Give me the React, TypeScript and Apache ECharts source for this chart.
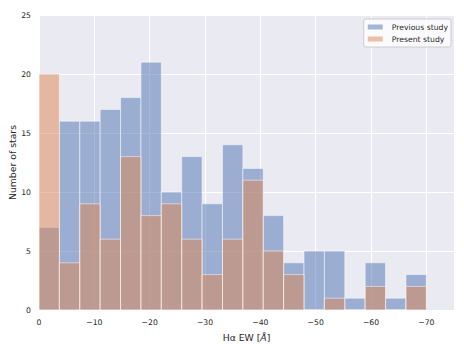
import React, { useEffect, useRef } from "react";
import * as echarts from "echarts";

// Histogram of H-alpha equivalent width (axis shows |EW|, labelled as negative EW)
const binCount = 19;
const binRange = 70; // bins span 0 .. -70 Å
const previousStudy = [7, 16, 16, 17, 18, 21, 10, 13, 9, 14, 12, 8, 4, 5, 5, 1, 4, 1, 3];
const presentStudy = [20, 4, 9, 6, 13, 8, 9, 6, 3, 6, 11, 5, 3, 0, 1, 0, 2, 0, 2];
const seriesNames = ["Previous study", "Present study"];
const yTicks = [0, 5, 10, 15, 20, 25];

const FONT = "DejaVu Sans";
const TEXT = "#262626";

function toItems(counts: number[]) {
  const w = binRange / binCount;
  return counts.map((c, i) => [i * w, (i + 1) * w, c]);
}

export default function App() {
  const ref = useRef<HTMLDivElement>(null);
  useEffect(() => {
    if (!ref.current) return;
    const chart = echarts.init(ref.current, undefined, { renderer: "svg" });
    const colors = ["rgba(76,114,176,0.5)", "rgba(221,132,82,0.5)"];
    const mk = (name: string, counts: number[], color: string) => ({
      type: "custom",
      name,
      itemStyle: { color },
      encode: { x: [0, 1], y: 2 },
      data: toItems(counts),
      renderItem: (params: any, api: any) => {
        const x0 = api.value(0);
        const x1 = api.value(1);
        const y = api.value(2);
        const p0 = api.coord([x0, y]);
        const p1 = api.coord([x1, 0]);
        return {
          type: "rect",
          shape: { x: p0[0], y: p0[1], width: p1[0] - p0[0], height: p1[1] - p0[1] },
          style: { fill: color, stroke: "rgba(255,255,255,0.5)", lineWidth: 1 },
        };
      },
    });
    chart.setOption({
      animation: false,
      backgroundColor: "#ffffff",
      textStyle: { fontFamily: FONT, color: TEXT },
      grid: {
        left: 39,
        right: 10,
        top: 15,
        bottom: 45,
        show: true,
        containLabel: false,
        outerBoundsMode: "none",
        backgroundColor: "#EAEAF2",
        borderWidth: 0,
      },
      legend: {
        data: seriesNames.map((n, i) => ({ name: n, itemStyle: { color: colors[i] } })),
        orient: "vertical",
        right: 13,
        top: 19,
        icon: "rect",
        itemWidth: 15,
        itemHeight: 5,
        itemGap: 4,
        padding: [4, 3, 4, 4],
        backgroundColor: "rgba(255,255,255,0.8)",
        borderColor: "#cccccc",
        borderWidth: 1,
        borderRadius: 2,
        textStyle: { fontFamily: FONT, fontSize: 7.7, color: TEXT, padding: [0, 0, 0, 4] },
      },
      xAxis: {
        type: "value",
        min: 0,
        max: 75,
        interval: 10,
        name: "Hα EW [{i|Å}]",
        nameLocation: "middle",
        nameGap: 23,
        nameMoveOverlap: false,
        nameTextStyle: {
          fontFamily: FONT,
          fontSize: 9.3,
          color: TEXT,
          rich: { i: { fontFamily: FONT, fontSize: 9.3, fontStyle: "italic", color: TEXT } },
        },
        axisLine: { show: false },
        axisTick: { show: false },
        splitLine: { show: true, lineStyle: { color: "#ffffff", width: 1 } },
        axisLabel: {
          fontFamily: FONT,
          fontSize: 7.7,
          color: TEXT,
          margin: 8,
          showMaxLabel: false,
          formatter: (v: number) => (v === 0 ? "0" : "\u2212" + v),
        },
      },
      yAxis: {
        type: "value",
        min: yTicks[0],
        max: yTicks[yTicks.length - 1],
        interval: 5,
        name: "Number of stars",
        nameLocation: "middle",
        nameGap: 22,
        nameMoveOverlap: false,
        nameTextStyle: { fontFamily: FONT, fontSize: 9.3, color: TEXT },
        axisLine: { show: false },
        axisTick: { show: false },
        splitLine: { show: true, lineStyle: { color: "#ffffff", width: 1 } },
        axisLabel: { fontFamily: FONT, fontSize: 7.7, color: TEXT, margin: 8 },
      },
      series: [
        mk(seriesNames[0], previousStudy, colors[0]),
        mk(seriesNames[1], presentStudy, colors[1]),
      ],
    });
    return () => chart.dispose();
  }, []);
  return (
    <div
      ref={ref}
      style={{ position: "fixed", left: 0, top: 0, width: 464, height: 355 }}
    />
  );
}
